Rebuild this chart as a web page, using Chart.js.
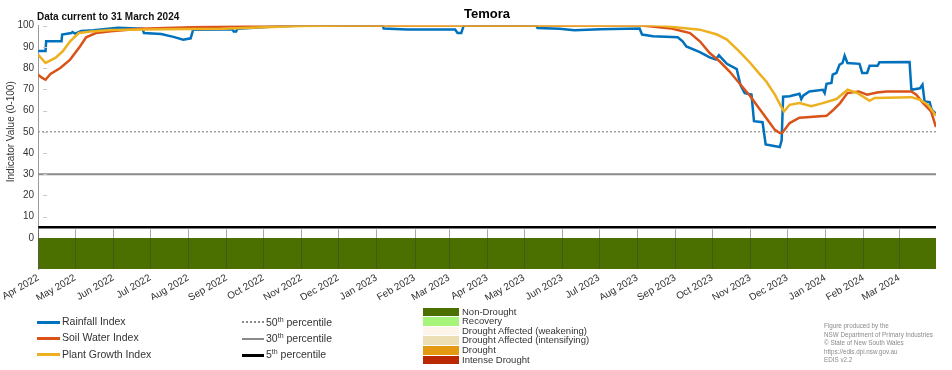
<!DOCTYPE html>
<html>
<head>
<meta charset="utf-8">
<script src="https://cdn.jsdelivr.net/npm/chart.js@4.4.1/dist/chart.umd.min.js"></script>
<style>
  body { margin: 0; background: #fff; font-family: 'Liberation Sans', Arial, sans-serif; }
  #wrap { position: relative; width: 952px; height: 370px; }
  #wrap canvas { position: absolute; left: 0; top: 0; }
  .txt { position: absolute; white-space: nowrap; color: #333; }
  .sw { position: absolute; }
  .sup { font-size: 7px; vertical-align: 4px; }
</style>
</head>
<body>
<div id="wrap">
  <canvas id="myChart" width="952" height="370"></canvas>
  <div class="txt" style="left:37px;top:11px;font-size:10px;font-weight:bold;color:#111;">Data current to 31 March 2024</div>
  <div id="legend"></div>
</div>
<script>
// month ticks along the bottom
const monthLabels = ['Apr 2022', 'May 2022', 'Jun 2022', 'Jul 2022', 'Aug 2022', 'Sep 2022', 'Oct 2022', 'Nov 2022',
    'Dec 2022', 'Jan 2023', 'Feb 2023', 'Mar 2023', 'Apr 2023', 'May 2023', 'Jun 2023', 'Jul 2023', 'Aug 2023',
    'Sep 2023', 'Oct 2023', 'Nov 2023', 'Dec 2023', 'Jan 2024', 'Feb 2024', 'Mar 2024'];
const yTicks = [0, 10, 20, 30, 40, 50, 60, 70, 80, 90, 100];

// days since 1 Apr 2022
const rainDays = [0, 6, 6.5, 19, 19.5, 27, 28, 30, 35, 45, 65, 85, 86, 100, 110, 118, 124, 126, 150, 158, 159, 161, 162,
    189, 213, 280, 281, 300, 339, 341, 344, 346, 405, 406, 424, 436, 457, 489, 491, 500, 520, 524, 527, 538, 546, 551,
    553.5, 560, 568, 571, 574.5, 580, 582, 589, 591.5, 603, 604.5, 605.7, 611, 619, 620.5, 622, 627, 638, 639.5, 641,
    645, 646, 649, 651.6, 654, 655.7, 658, 667.8, 670, 674, 676, 682.5, 684, 708.5, 710, 717, 719, 720.7, 724.8, 726.5, 730];
const rainValues = [88, 88, 92.6, 92.6, 95.8, 96.5, 97, 96.2, 97.5, 97.8, 99, 98.5, 96.5, 96, 94.7, 93.4, 94, 98.1, 98.2,
    98.2, 97.2, 97.2, 98.5, 99.5, 100, 100, 98.6, 98.2, 98.2, 96.5, 96.5, 100, 100, 98.9, 98.5, 97.8, 98.3, 98.6, 95.8,
    95, 94.5, 92.6, 90.2, 87.5, 85, 84, 86, 82, 79.5, 72, 68.2, 67.5, 55, 54.5, 44, 42.8, 46, 66.5, 66.7, 67.9, 65.4, 67,
    69, 69.8, 68.2, 72.6, 73, 76.9, 77.7, 81.6, 82.4, 85.8, 82.4, 82, 77.7, 77.7, 81.1, 81.1, 82.7, 82.9, 69.8, 70.5,
    72.2, 64.3, 64, 60.4, 58.5];

const soilDays = [0, 3, 6, 10, 18, 26, 34, 39, 47, 59, 83, 132, 181, 220, 490, 497, 515, 530, 538, 546, 554, 562, 570,
    579, 587, 593, 599, 603, 605, 611, 619, 625, 641, 646, 652, 658, 667, 674, 682, 690, 710, 714, 719.5, 726, 730];
const soilValues = [76.9, 75.5, 74.5, 77.2, 80, 84, 90.2, 94.5, 96.5, 97.3, 98.5, 99.3, 99.8, 100, 100, 99.7, 98.6, 96.5,
    92.6, 87.1, 83.2, 78.5, 73, 66.7, 60.4, 55.7, 50.9, 49.4, 49.5, 54.1, 56.6, 56.8, 57.5, 60, 63.5, 68.2, 69, 67.5,
    68.5, 69, 69, 67.5, 63.5, 59.6, 52.2];

const plantDays = [0, 6, 14, 20, 26, 33, 43, 59, 100, 150, 173, 213, 250, 505, 524, 538, 552, 560, 570, 579, 587, 592,
    599, 604, 606.5, 611, 619, 628.6, 638, 649, 658.2, 666.3, 676, 680, 710, 717, 723.5, 730];
const plantValues = [86.3, 82.4, 84.8, 87.9, 92.6, 96.5, 97.2, 97.9, 98.3, 98.5, 99, 99.8, 100, 100, 98.9, 98.1, 95.8,
    93.4, 87.9, 82.4, 76.9, 73.7, 67.5, 62, 59.6, 62.7, 63.5, 62, 63.5, 65.4, 69.8, 68.2, 64.6, 65.9, 66.3, 65.1, 62.7, 57.5];

const percentiles = [50, 30, 5];

const startDate = new Date(2022, 3, 1);
const monthDays = monthLabels.map((m, i) => Math.round((new Date(2022, 3 + i, 1) - startDate) / 86400000));
const lastDay = 730;

const pts = (xs, ys) => xs.map((x, i) => ({ x: x, y: ys[i] }));
const flat = v => [{ x: 0, y: v }, { x: lastDay, y: v }];

Chart.defaults.font.family = "'Liberation Sans', Arial, sans-serif";

// month lines through the category band + little inward y ticks
const bandLines = {
    id: 'bandLines',
    afterDatasetsDraw(chart) {
        const c = chart.ctx, x = chart.scales.x, y = chart.scales.y, yb = chart.scales.yb;
        c.save();
        c.lineWidth = 1;
        c.strokeStyle = 'rgba(60,60,60,0.45)';
        monthDays.forEach(d => {
            const px = Math.round(x.getPixelForValue(d)) + 0.5;
            c.beginPath();
            c.moveTo(px, y.getPixelForValue(5) + 2);
            c.lineTo(px, yb.bottom);
            c.stroke();
        });
        c.strokeStyle = '#c8c8c8';
        yTicks.slice(1).forEach(v => {
            const py = Math.round(y.getPixelForValue(v)) + 0.5;
            c.beginPath();
            c.moveTo(x.left + 5, py);
            c.lineTo(x.left + 9, py);
            c.stroke();
        });
        c.restore();
    }
};

const ctx = document.getElementById('myChart').getContext('2d');
const myChart = new Chart(ctx, {
    type: 'line',
    data: {
        datasets: [
            { label: 'Plant Growth Index', data: pts(plantDays, plantValues), borderColor: '#EDB120', yAxisID: 'y', order: 1 },
            { label: 'Soil Water Index', data: pts(soilDays, soilValues), borderColor: '#D95319', yAxisID: 'y', order: 2 },
            { label: 'Rainfall Index', data: pts(rainDays, rainValues), borderColor: '#0072BD', yAxisID: 'y', order: 3 },
            { label: '50th percentile', data: flat(percentiles[0]), borderColor: '#8a8a8a', borderWidth: 1.6,
              borderDash: [1.6, 2.4], yAxisID: 'y', order: 4 },
            { label: '30th percentile', data: flat(percentiles[1]), borderColor: '#8a8a8a', borderWidth: 2,
              yAxisID: 'y', order: 5 },
            { label: '5th percentile', data: flat(percentiles[2]), borderColor: '#000', borderWidth: 2.5,
              yAxisID: 'y', order: 6 },
            { label: 'Non-Drought', data: flat(1), yAxisID: 'yb', borderWidth: 0, fill: 'start',
              backgroundColor: '#4b7000', order: 7 }
        ]
    },
    options: {
        responsive: false,
        animation: false,
        layout: { padding: { left: 0, right: 16, top: 0, bottom: 70 } },
        elements: {
            line: { borderWidth: 2.5, tension: 0 },
            point: { radius: 0 }
        },
        plugins: {
            legend: { display: false },
            tooltip: { enabled: false },
            title: {
                display: true, text: 'Temora', fullSize: false, color: '#000',
                font: { size: 13, weight: 'bold' }, padding: { top: 7, bottom: 3 }
            }
        },
        scales: {
            x: {
                type: 'linear', min: 0, max: lastDay,
                afterBuildTicks: s => { s.ticks = monthDays.map(v => ({ value: v })); },
                ticks: {
                    callback: (v, i) => monthLabels[i], autoSkip: false, maxRotation: 30, minRotation: 30,
                    color: '#333', font: { size: 10 }, padding: 3
                },
                grid: { display: false, drawTicks: false },
                border: { display: false },
                afterFit: s => { s.height = 31; }
            },
            yb: {
                stack: 'v', stackWeight: 31, min: 0, max: 1, position: 'left',
                ticks: { display: false },
                grid: { display: false, drawTicks: false },
                border: { color: '#9a9a9a' },
                afterFit: s => { s.width = 37; }
            },
            y: {
                stack: 'v', stackWeight: 212, min: 0, max: 100, position: 'left',
                afterBuildTicks: s => { s.ticks = yTicks.map(v => ({ value: v })); },
                ticks: { color: '#333', font: { size: 10 }, padding: 4, autoSkip: false },
                grid: { display: false, drawTicks: false },
                border: { color: '#9a9a9a' },
                title: { display: true, text: 'Indicator Value (0-100)', color: '#333', font: { size: 10 },
                         padding: { top: 4, bottom: 0 } },
                afterFit: s => { s.width = 37; }
            }
        }
    },
    plugins: [bandLines]
});

// bottom legend, three columns + credits
const seriesKeys = [['Rainfall Index', '#0072BD'], ['Soil Water Index', '#D95319'], ['Plant Growth Index', '#EDB120']];
const pctKeys = [['50', 'dotted', '#8a8a8a'], ['30', 'solid', '#8a8a8a'], ['5', 'solid', '#000']];
const droughtKeys = [['Non-Drought', '#4b7000'], ['Recovery', '#a6f57a'], ['Drought Affected (weakening)', '#fdf5ea'],
    ['Drought Affected (intensifying)', '#eddfb5'], ['Drought', '#e39a12'], ['Intense Drought', '#b92800']];
const credits = ['Figure produced by the', 'NSW Department of Primary Industries', '\u00a9 State of New South Wales',
    'https://edis.dpi.nsw.gov.au', 'EDIS v2.2'];

let html = '';
seriesKeys.forEach((k, i) => {
    const cy = 322 + i * 16.3;
    html += `<div class="sw" style="left:37px;top:${cy - 1.5}px;width:23px;height:3px;background:${k[1]}"></div>`;
    html += `<div class="txt" style="left:62px;top:${cy - 7}px;font-size:10.5px">${k[0]}</div>`;
});
pctKeys.forEach((k, i) => {
    const cy = 322.5 + i * 16.3;
    const w = k[0] === '5' ? 3 : 2.5;
    html += `<div class="sw" style="left:242px;top:${cy - w / 2}px;width:22px;height:0;border-top:${w}px ${k[1]} ${k[2]}"></div>`;
    html += `<div class="txt" style="left:266px;top:${cy - 7}px;font-size:10.5px">${k[0]}<span class="sup">th</span> percentile</div>`;
});
droughtKeys.forEach((k, i) => {
    const top = 307.5 + i * 9.65;
    html += `<div class="sw" style="left:423px;top:${top}px;width:36px;height:8.5px;background:${k[1]}"></div>`;
    html += `<div class="txt" style="left:462px;top:${top - 1}px;font-size:9.5px;line-height:10px">${k[0]}</div>`;
});
credits.forEach((t, i) => {
    html += `<div class="txt" style="left:824px;top:${322 + i * 8.6}px;font-size:6.3px;color:#8a8a8a">${t}</div>`;
});
document.getElementById('legend').innerHTML = html;
</script>
</body>
</html>
